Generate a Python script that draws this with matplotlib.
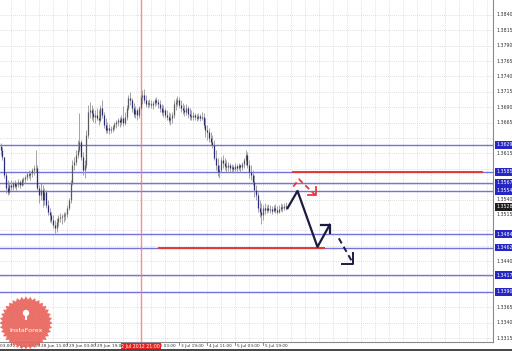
#!/usr/bin/env python3
"""
H1 price chart with support/resistance levels and forecast arrows,
MT4-style (bars, dotted grid, right price scale, boxed level prices).
"""
import numpy as np
import matplotlib
matplotlib.use("Agg")
import matplotlib.pyplot as plt
from matplotlib.patches import Polygon, Circle, Rectangle
from matplotlib.transforms import blended_transform_factory

# ---- hourly bars (index = bar number) ----
highs = [1.3632, 1.3625, 1.3609, 1.3585, 1.3572, 1.3569, 1.3572, 1.3570, 1.3572, 1.3569,
         1.3573, 1.3572, 1.3575, 1.3577, 1.3580, 1.3585, 1.3588, 1.3586, 1.3591, 1.3596,
         1.3620, 1.3596, 1.3564, 1.3567, 1.3564, 1.3559, 1.3556, 1.3539, 1.3526, 1.3520,
         1.3515, 1.3507, 1.3510, 1.3515, 1.3518, 1.3517, 1.3520, 1.3520, 1.3531, 1.3542,
         1.3572, 1.3604, 1.3609, 1.3620, 1.3637, 1.3681, 1.3637, 1.3617, 1.3604, 1.3653,
         1.3694, 1.3698, 1.3694, 1.3689, 1.3685, 1.3689, 1.3685, 1.3694, 1.3702, 1.3682,
         1.3672, 1.3666, 1.3663, 1.3660, 1.3661, 1.3666, 1.3669, 1.3672, 1.3674, 1.3677,
         1.3692, 1.3682, 1.3694, 1.3710, 1.3715, 1.3705, 1.3697, 1.3692, 1.3689, 1.3692,
         1.3710, 1.3718, 1.3720, 1.3710, 1.3702, 1.3703, 1.3702, 1.3700, 1.3705, 1.3707,
         1.3703, 1.3702, 1.3695, 1.3694, 1.3689, 1.3685, 1.3682, 1.3681, 1.3682, 1.3702,
         1.3705, 1.3708, 1.3707, 1.3702, 1.3697, 1.3694, 1.3695, 1.3692, 1.3689, 1.3685,
         1.3682, 1.3681, 1.3679, 1.3681, 1.3679, 1.3682, 1.3681, 1.3672, 1.3661, 1.3656,
         1.3650, 1.3645, 1.3637, 1.3620, 1.3607, 1.3596, 1.3609, 1.3612, 1.3607, 1.3604,
         1.3601, 1.3599, 1.3598, 1.3596, 1.3599, 1.3598, 1.3599, 1.3598, 1.3601, 1.3607,
         1.3620, 1.3617, 1.3604, 1.3596, 1.3588, 1.3580, 1.3564, 1.3552, 1.3539, 1.3534,
         1.3531, 1.3534, 1.3531, 1.3533, 1.3531, 1.3530, 1.3531, 1.3533, 1.3530, 1.3531,
         1.3534, 1.3533, 1.3534, 1.3536]
lows = [1.3612, 1.3604, 1.3575, 1.3551, 1.3547, 1.3549, 1.3556, 1.3556, 1.3559, 1.3556,
        1.3560, 1.3559, 1.3562, 1.3564, 1.3567, 1.3572, 1.3575, 1.3572, 1.3577, 1.3580,
        1.3585, 1.3556, 1.3534, 1.3539, 1.3528, 1.3531, 1.3526, 1.3515, 1.3504, 1.3502,
        1.3494, 1.3486, 1.3487, 1.3497, 1.3504, 1.3500, 1.3504, 1.3507, 1.3512, 1.3523,
        1.3534, 1.3564, 1.3588, 1.3596, 1.3607, 1.3617, 1.3604, 1.3580, 1.3575, 1.3591,
        1.3640, 1.3672, 1.3669, 1.3666, 1.3664, 1.3669, 1.3661, 1.3666, 1.3672, 1.3656,
        1.3648, 1.3648, 1.3647, 1.3648, 1.3650, 1.3653, 1.3656, 1.3660, 1.3658, 1.3661,
        1.3660, 1.3661, 1.3669, 1.3685, 1.3694, 1.3682, 1.3674, 1.3672, 1.3669, 1.3672,
        1.3685, 1.3695, 1.3697, 1.3690, 1.3689, 1.3690, 1.3689, 1.3687, 1.3692, 1.3694,
        1.3689, 1.3682, 1.3677, 1.3674, 1.3672, 1.3669, 1.3664, 1.3661, 1.3664, 1.3672,
        1.3685, 1.3692, 1.3689, 1.3682, 1.3679, 1.3676, 1.3677, 1.3672, 1.3669, 1.3669,
        1.3669, 1.3669, 1.3668, 1.3669, 1.3668, 1.3669, 1.3656, 1.3642, 1.3637, 1.3634,
        1.3629, 1.3624, 1.3604, 1.3588, 1.3578, 1.3575, 1.3585, 1.3591, 1.3588, 1.3585,
        1.3586, 1.3585, 1.3583, 1.3585, 1.3586, 1.3585, 1.3588, 1.3585, 1.3588, 1.3591,
        1.3596, 1.3591, 1.3575, 1.3572, 1.3564, 1.3544, 1.3539, 1.3520, 1.3512, 1.3500,
        1.3507, 1.3517, 1.3518, 1.3520, 1.3518, 1.3517, 1.3520, 1.3518, 1.3517, 1.3518,
        1.3521, 1.3520, 1.3523, 1.3523]
closes = [1.3620, 1.3609, 1.3580, 1.3559, 1.3552, 1.3564, 1.3560, 1.3567, 1.3562, 1.3565,
          1.3569, 1.3564, 1.3572, 1.3573, 1.3577, 1.3582, 1.3580, 1.3583, 1.3588, 1.3591,
          1.3591, 1.3559, 1.3547, 1.3556, 1.3539, 1.3552, 1.3531, 1.3520, 1.3515, 1.3507,
          1.3499, 1.3494, 1.3504, 1.3510, 1.3512, 1.3513, 1.3515, 1.3517, 1.3526, 1.3539,
          1.3567, 1.3596, 1.3601, 1.3612, 1.3620, 1.3634, 1.3609, 1.3588, 1.3596, 1.3645,
          1.3682, 1.3685, 1.3681, 1.3674, 1.3677, 1.3672, 1.3669, 1.3689, 1.3677, 1.3661,
          1.3653, 1.3656, 1.3653, 1.3655, 1.3658, 1.3663, 1.3666, 1.3669, 1.3666, 1.3672,
          1.3664, 1.3674, 1.3689, 1.3705, 1.3702, 1.3689, 1.3679, 1.3685, 1.3677, 1.3689,
          1.3707, 1.3710, 1.3702, 1.3695, 1.3697, 1.3695, 1.3694, 1.3697, 1.3702, 1.3698,
          1.3695, 1.3689, 1.3682, 1.3685, 1.3677, 1.3674, 1.3669, 1.3672, 1.3677, 1.3695,
          1.3698, 1.3702, 1.3694, 1.3689, 1.3685, 1.3682, 1.3689, 1.3679, 1.3676, 1.3674,
          1.3677, 1.3674, 1.3672, 1.3676, 1.3672, 1.3674, 1.3661, 1.3653, 1.3650, 1.3640,
          1.3634, 1.3629, 1.3607, 1.3596, 1.3585, 1.3588, 1.3604, 1.3599, 1.3594, 1.3593,
          1.3596, 1.3591, 1.3593, 1.3590, 1.3594, 1.3591, 1.3596, 1.3593, 1.3598, 1.3604,
          1.3612, 1.3596, 1.3585, 1.3580, 1.3568, 1.3555, 1.3547, 1.3526, 1.3520, 1.3515,
          1.3526, 1.3523, 1.3526, 1.3523, 1.3525, 1.3521, 1.3526, 1.3523, 1.3520, 1.3525,
          1.3528, 1.3526, 1.3530, 1.3528]
first_open = 1.3627
opens = [first_open] + closes[:-1]

# ---- horizontal levels ----
level_prices = [1.3629, 1.3585, 1.3567, 1.3554, 1.3484, 1.3462, 1.3417, 1.3390]
last_price = 1.3528
red_levels = [1.3585, 1.3462]
red_spans = [(167.4, 275.4), (90.3, 184.6)]

# ---- forecast arrows (bar index, price) ----
fc_solid_x = [164.0, 169.7, 181.1, 188.1]
fc_solid_y = [1.3526, 1.3554, 1.3463, 1.3499]
fc_solid_head_x = [183.3, 188.1, 188.1]
fc_solid_head_y = [1.3499, 1.3499, 1.3485]
fc_dash_x = [193.3, 201.5]
fc_dash_y = [1.3477, 1.3436]
fc_dash_head_x = [201.5, 201.5, 195.3]
fc_dash_head_y = [1.3453, 1.3436, 1.3436]
fc_red_x = [167.3, 170.5, 180.0]
fc_red_y = [1.3561, 1.3573, 1.3547]
fc_red_head_x = [180.0, 180.0, 175.6]
fc_red_head_y = [1.3560, 1.3547, 1.3547]

# ---- axis labels ----
ytick_vals = [1.3840, 1.3815, 1.3790, 1.3765, 1.3740, 1.3715, 1.3690, 1.3665,
              1.3640, 1.3615, 1.3590, 1.3565, 1.3540, 1.3515, 1.3490, 1.3465,
              1.3440, 1.3415, 1.3390, 1.3365, 1.3340, 1.3315]
xtick_bars = [-10, 6, 22, 38, 54, 86, 102, 118, 134, 150]
xtick_labels = ["27 Jun 03:00", "27 Jun 19:00", "28 Jun 11:00", "29 Jun 03:00",
                "29 Jun 19:00", "3 Jul 03:00", "3 Jul 19:00", "4 Jul 11:00",
                "5 Jul 03:00", "5 Jul 19:00"]
cross_bar = 80
cross_label = "2 Jul 2012 21:00"

BLUE = '#5c5cd8'
RED = '#e83838'
FS = 3.4
FSX = 3.1
FAM = ['Liberation Sans Narrow', 'DejaVu Sans']
PX = 0.0001625   # price per pixel on this scale

fig = plt.figure(figsize=(5.12, 3.51), dpi=100)
fig.patch.set_facecolor('white')
ax = fig.add_axes([0, 9 / 351, 493 / 512, 342 / 351])
ax.set_xlim(-0.3, 281.4)
ax.set_ylim(1.33085, 1.386425)
ax.set_xticks([]); ax.set_yticks([])
for s in ('top', 'left'):
    ax.spines[s].set_visible(False)
for s in ('bottom', 'right'):
    ax.spines[s].set_color('#8a8a8a'); ax.spines[s].set_linewidth(0.8)

# dotted grid
for v in ytick_vals:
    ax.axhline(v, color='#c4c4c4', lw=0.5, ls=(0, (1, 2)), zorder=0)
for b in np.arange(-2, 282, 8):
    ax.axvline(b, color='#c4c4c4', lw=0.5, ls=(0, (1, 2)), zorder=0)

# levels
for v in level_prices:
    ax.axhline(v, color=BLUE, lw=1.0, alpha=0.85, zorder=1)
for v, (x0, x1) in zip(red_levels, red_spans):
    ax.plot([x0, x1], [v, v], color=RED, lw=1.4, zorder=4)

# crosshair
ax.axvline(cross_bar, color='#ff7070', lw=1.0, alpha=0.8, zorder=1)

# bars
idx = np.arange(len(closes))
o, c = np.array(opens), np.array(closes)
ax.vlines(idx, lows, highs, color='#959595', lw=0.6, zorder=2)
up = c >= o
ax.vlines(idx[up], o[up], c[up], color='#5a5a5a', lw=0.9, zorder=3)
ax.vlines(idx[~up], c[~up], o[~up], color='#2a2a80', lw=0.9, zorder=3)

# forecast arrows
ax.plot(fc_solid_x, fc_solid_y, color='#1c1c40', lw=1.6, zorder=5)
ax.plot(fc_solid_head_x, fc_solid_head_y, color='#1c1c40', lw=1.6, zorder=5)
ax.plot(fc_dash_x, fc_dash_y, color='#1c1c40', lw=1.4, ls=(0, (3, 2)), zorder=5)
ax.plot(fc_dash_head_x, fc_dash_head_y, color='#1c1c40', lw=1.4, zorder=5)
ax.plot(fc_red_x, fc_red_y, color=RED, lw=1.3, ls=(0, (3, 2)), zorder=5)
ax.plot(fc_red_head_x, fc_red_head_y, color=RED, lw=1.3, zorder=5)

# right price scale (plain labels hidden where a boxed price sits)
ty = blended_transform_factory(ax.transAxes, ax.transData)
boxed = level_prices + [last_price]
for v in ytick_vals:
    if min(abs(v - b) for b in boxed) < 7 * PX:
        continue
    ax.text(1.006, v, f"{v:.4f}", transform=ty, fontsize=FS, family=FAM,
            va='center', ha='left', color='#333333', clip_on=False)
for v in level_prices:
    ax.text(1.006, v, f"{v:.4f}", transform=ty, fontsize=FS, family=FAM,
            va='center', ha='left', color='white', clip_on=False, zorder=6,
            bbox=dict(boxstyle='square,pad=0.3', fc='#2626c4', ec='none'))
ax.text(1.006, last_price, f"{last_price:.4f}", transform=ty, fontsize=FS, family=FAM,
        va='center', ha='left', color='white', clip_on=False, zorder=6,
        bbox=dict(boxstyle='square,pad=0.3', fc='#1e1e1e', ec='none'))

# time scale
tx = blended_transform_factory(ax.transData, ax.transAxes)
for b, lab in zip(xtick_bars, xtick_labels):
    ax.plot([b, b], [0, -0.008], transform=tx, color='#555555', lw=0.5, clip_on=False)
    ax.text(b + 0.9, -0.006, lab, transform=tx, fontsize=FSX, family=FAM,
            va='top', ha='left', color='#333333', clip_on=False)
ax.text(cross_bar, -0.006, cross_label, transform=tx, fontsize=FS, family=FAM,
        va='top', ha='center', color='white', clip_on=False, zorder=6,
        bbox=dict(boxstyle='square,pad=0.12', fc='#e82020', ec='none'))

# window border at the bottom
fig.patches.append(Rectangle((0, 0), 1, 2.5 / 351, transform=fig.transFigure,
                             fc='#4a4a4a', ec='none'))

# InstaForex badge (pixel overlay)
ov = fig.add_axes([0, 0, 1, 1], zorder=10)
ov.set_xlim(0, 512); ov.set_ylim(351, 0); ov.axis('off'); ov.patch.set_alpha(0)
ang = np.linspace(0, 2 * np.pi, 73)[:-1]
rad = np.where(np.arange(72) % 2 == 0, 26.5, 23.5)
ov.add_patch(Polygon(np.c_[26 + rad * np.cos(ang), 323 + rad * np.sin(ang)],
                     closed=True, fc='#e8605a', ec='none', alpha=0.9))
ov.add_patch(Circle((26, 313), 3.2, fc='white', ec='none'))
ov.add_patch(Rectangle((24.6, 313), 2.8, 7, fc='white', ec='none'))
ov.text(26, 330, "InstaForex", color='white', fontsize=4.6, ha='center', va='center')

fig.savefig("out.png", dpi=100)
